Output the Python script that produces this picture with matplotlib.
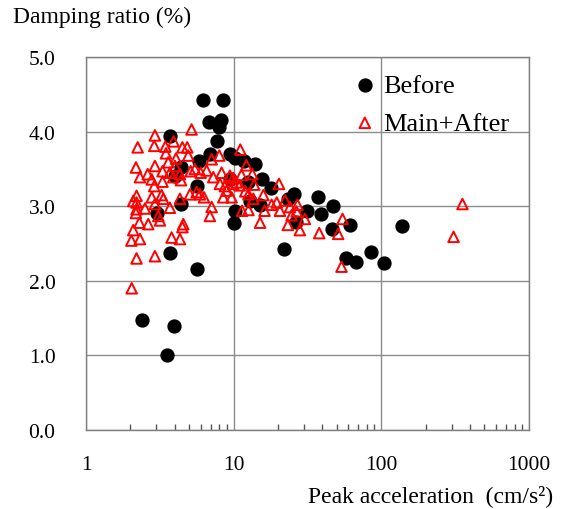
import numpy as np
import matplotlib
matplotlib.use("Agg")
import matplotlib.pyplot as plt
from matplotlib.ticker import LogLocator, FixedLocator, NullFormatter

plt.rcParams['font.family'] = ['Liberation Serif', 'DejaVu Serif']

# Before (black dots): peak acceleration (cm/s2), damping ratio (%)
before_acc = [6.20, 8.46, 6.81, 8.20, 7.95, 7.71, 3.73, 4.40, 5.82, 6.91,
              9.51, 10.2, 11.7, 14.0, 15.5, 17.9, 12.6, 9.44, 5.62, 4.40,
              3.05, 3.70, 5.67, 2.40, 3.96, 3.54, 10.25, 10.1, 12.9, 15.0,
              25.8, 23.4, 31.2, 26.6, 37.4, 47.2, 39.0, 46.1, 61.3, 21.8,
              57.6, 67.6, 85.0, 103.7, 138.5, 4.01]
before_damp = [4.42, 4.42, 4.13, 4.16, 4.06, 3.87, 3.94, 3.53, 3.61, 3.70,
               3.70, 3.65, 3.61, 3.57, 3.36, 3.24, 3.33, 3.36, 3.27, 3.03,
               2.91, 2.37, 2.16, 1.47, 1.40, 1.01, 2.94, 2.77, 3.07, 3.02,
               3.17, 3.10, 2.94, 2.79, 3.12, 3.01, 2.89, 2.69, 2.75, 2.43,
               2.31, 2.25, 2.38, 2.24, 2.73, 3.40]

# Main+After (red triangles)
after_acc = [2.04, 2.20, 2.03, 2.09, 2.32, 2.30, 2.18, 2.20, 2.20, 2.20,
             2.18, 2.24, 2.32, 2.51, 2.09,
             2.93, 2.90, 2.62, 2.79, 2.93, 2.90, 2.79, 2.93, 2.64, 3.09,
             3.17, 2.93,
             3.45, 3.92, 3.48, 4.07, 3.61, 3.30, 4.01, 3.70, 3.90, 3.30,
             3.25, 3.34, 3.70, 3.80, 4.33, 4.50, 4.33, 4.40, 4.33, 4.56,
             5.19, 4.50, 4.85, 4.93, 5.12, 5.47, 5.06, 5.62, 5.91,
             5.98, 6.56, 7.10, 8.00, 6.30, 7.10, 6.91, 7.28, 8.08, 8.73,
             8.29, 8.51, 8.97, 9.44,
             11.1, 12.2, 9.94, 11.3, 10.5, 13.4, 13.8, 11.0, 9.94, 12.0,
             12.6, 9.69, 13.6, 11.4, 12.6, 15.1, 15.9, 16.2,
             18.1, 19.6, 20.3, 20.6, 22.3, 24.1, 24.7, 23.3, 27.1, 26.7,
             28.1, 30.4, 38.0, 51.1, 54.7, 53.8, 309, 355]
after_damp = [1.90, 2.30, 2.54, 2.68, 2.56, 2.78, 2.91, 2.96, 3.05, 3.14,
              3.52, 3.79, 3.39, 2.97, 3.07,
              3.95, 3.81, 3.43, 3.36, 3.54, 3.27, 3.12, 3.03, 2.76, 2.87,
              2.81, 2.33,
              3.80, 3.87, 3.71, 3.64, 3.59, 3.47, 3.54, 3.45, 3.39, 3.33,
              3.15, 3.10, 2.98, 2.58, 2.56, 2.72, 3.43, 3.35, 3.10, 2.76,
              4.03, 3.79, 3.79, 3.68, 3.47, 3.50, 3.16, 3.19, 3.16,
              3.45, 3.48, 3.63, 3.68, 3.12, 2.99, 2.87, 3.39, 3.30, 3.27,
              3.45, 3.12, 3.21, 3.41,
              3.76, 3.55, 3.38, 3.42, 3.32, 3.43, 3.29, 3.28, 3.30, 3.20,
              3.16, 3.12, 3.10, 2.94, 2.95, 2.78, 3.15, 2.94,
              3.02, 3.05, 3.30, 2.94, 3.08, 2.99, 2.88, 2.75, 3.02, 2.93,
              2.68, 2.83, 2.64, 2.63, 2.83, 2.19, 2.59, 3.03]

y_ticks = [0.0, 1.0, 2.0, 3.0, 4.0, 5.0]
x_ticks = [1, 10, 100, 1000]

fig = plt.figure(figsize=(5.62, 5.10), dpi=100)
ax = fig.add_axes([0.153, 0.155, 0.788, 0.731])

ax.scatter(before_acc, before_damp, s=86, marker='o', color='black',
           label='Before', zorder=3)
ax.scatter(after_acc, after_damp, s=58, marker='^', facecolors='none',
           edgecolors='red', linewidths=1.4, label='Main+After', zorder=4)

ax.set_xscale('log')
ax.set_xlim(1, 1000)
ax.set_ylim(0, 5)
ax.xaxis.set_major_locator(FixedLocator(x_ticks))
ax.set_xticklabels([str(v) for v in x_ticks])
ax.xaxis.set_minor_locator(LogLocator(base=10, subs=np.arange(2, 10)))
ax.xaxis.set_minor_formatter(NullFormatter())
ax.set_yticks(y_ticks)
ax.set_yticklabels(['%.1f' % v for v in y_ticks])

ax.grid(True, which='major', color='#8c8c8c', linewidth=1.0)
ax.set_axisbelow(True)
for sp in ax.spines.values():
    sp.set_color('#7f7f7f')
    sp.set_linewidth(1.0)

ax.tick_params(axis='x', which='minor', direction='in', length=4,
               width=1.0, color='#555555')
ax.tick_params(axis='x', which='major', direction='in', length=0,
               pad=18, labelsize=15.5)
ax.tick_params(axis='y', which='major', length=0, pad=22, labelsize=15.5)

leg = ax.legend(loc='upper left', bbox_to_anchor=(0.57, 0.985), frameon=False,
                fontsize=19, handletextpad=0.1, labelspacing=0.55,
                handlelength=1.2, borderaxespad=0)

fig.text(0.023, 0.965, 'Damping ratio (%)', fontsize=17, ha='left', va='center')
fig.text(0.985, 0.028, 'Peak acceleration  (cm/s²)', fontsize=17,
         ha='right', va='center')

fig.savefig('out.png', dpi=100)
